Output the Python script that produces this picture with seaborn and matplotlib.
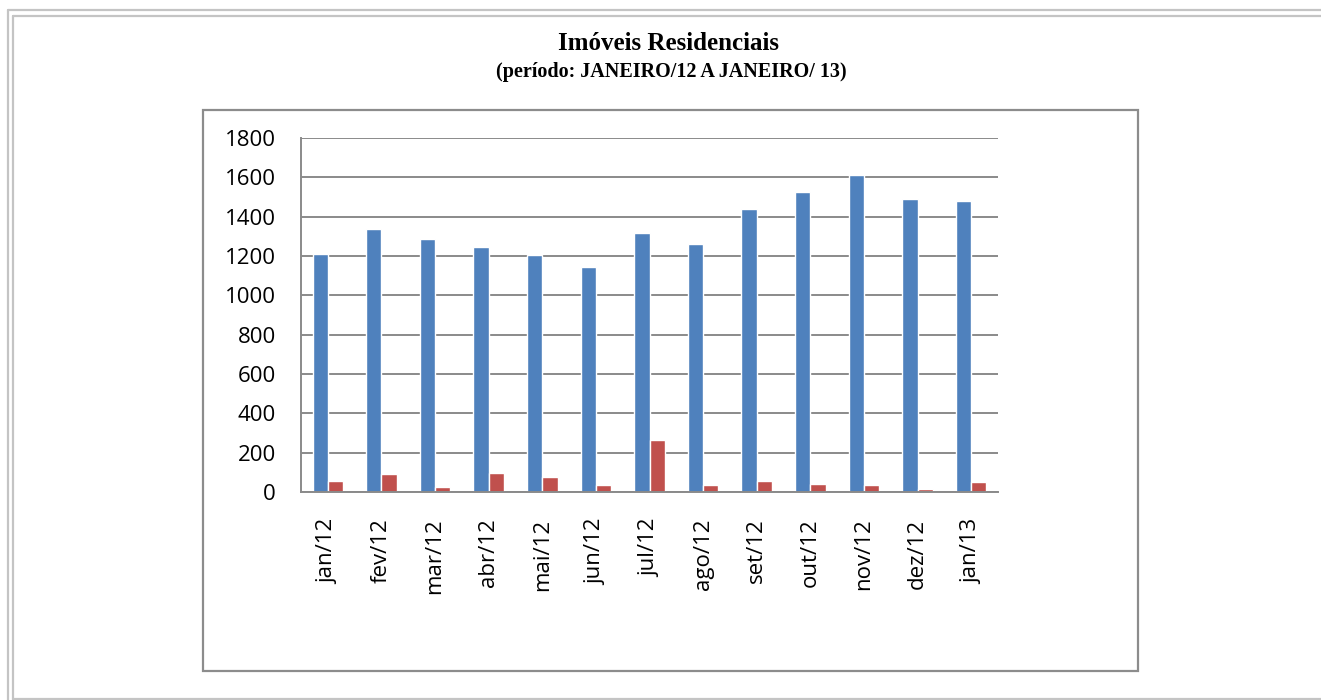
import pandas as pd
import matplotlib.pyplot as plt
import seaborn as sns
from matplotlib.lines import Line2D
from matplotlib.patches import Rectangle

"""Dados"""
meses = ["jan/12", "fev/12", "mar/12", "abr/12", "mai/12", "jun/12", "jul/12",
         "ago/12", "set/12", "out/12", "nov/12", "dez/12", "jan/13"]
serie_azul = [1210, 1339, 1285, 1244, 1203, 1143, 1315, 1261, 1441, 1527, 1610, 1488, 1478]
serie_vermelha = [55, 92, 26, 96, 75, 34, 262, 36, 56, 43, 36, 15, 51]
yticks = [0, 200, 400, 600, 800, 1000, 1200, 1400, 1600, 1800]

df = pd.DataFrame({
    "mes": meses * 2,
    "valor": serie_azul + serie_vermelha,
    "serie": ["azul"] * len(meses) + ["vermelha"] * len(meses),
})

sns.set_style("white")
plt.rcParams["font.family"] = ["Open Sans", "DejaVu Sans"]
plt.rcParams["text.color"] = "black"
plt.rcParams["xtick.labelcolor"] = "black"
plt.rcParams["ytick.labelcolor"] = "black"

W, H = 1321, 700
fig = plt.figure(figsize=(W / 100, H / 100), dpi=100)

def fx(px):
    return px / W

def fy(py):
    return 1 - py / H

# moldura da pagina (linha dupla cinza)
cor_borda = "#c4c4c4"
for x0, y0 in [(8, 10), (13, 15.5)]:
    fig.add_artist(Line2D([fx(x0), fx(x0)], [fy(y0), fy(700)], color=cor_borda, lw=1.6, transform=fig.transFigure))
    fig.add_artist(Line2D([fx(x0), 1], [fy(y0), fy(y0)], color=cor_borda, lw=1.6, transform=fig.transFigure))
fig.add_artist(Line2D([fx(13), 1], [fy(699), fy(699)], color=cor_borda, lw=1.6, transform=fig.transFigure))

# caixa do grafico
fig.add_artist(Rectangle((fx(203), fy(671)), fx(1138) - fx(203), fy(110) - fy(671),
                         fill=False, edgecolor="#8c8c8c", lw=1.6, transform=fig.transFigure))

fig.text(fx(668), fy(43), "Imóveis Residenciais", ha="center", va="center",
         family="Liberation Serif", fontweight="bold", fontsize=18, color="black")
fig.text(fx(671), fy(72), "(período: JANEIRO/12 A JANEIRO/ 13)", ha="center", va="center",
         family="Liberation Serif", fontweight="bold", fontsize=14.5, color="black")

ax = fig.add_axes([fx(301), fy(492), fx(998) - fx(301), fy(138) - fy(492)])
sns.barplot(data=df, x="mes", y="valor", hue="serie", palette=["#4f81bd", "#c0504d"],
            width=0.57, saturation=1, legend=False, ax=ax)

ax.set_ylim(0, 1800)
ax.set_yticks(yticks)
ax.set_xlim(-0.5, len(meses) - 0.5)
ax.set_xlabel("")
ax.set_ylabel("")
ax.yaxis.grid(True, color="#8a8a8a", lw=1.4)
ax.set_axisbelow(True)
for s in ["top", "right"]:
    ax.spines[s].set_visible(False)
for s in ["left", "bottom"]:
    ax.spines[s].set_color("#8a8a8a")
    ax.spines[s].set_linewidth(1.4)

ax.tick_params(axis="y", direction="out", length=6, width=1.4, color="#8a8a8a",
               pad=12, labelsize=16, labelcolor="black")
ax.set_xticks([i + 0.5 for i in range(-1, len(meses))], minor=True)
ax.set_xticks(range(len(meses)))
ax.set_xticklabels(meses, rotation=90, fontsize=16)
ax.tick_params(axis="x", which="major", length=0, pad=19, labelcolor="black")
ax.tick_params(axis="x", which="minor", direction="out", length=6, width=1.4, color="#8a8a8a")

fig.savefig("out.png", dpi=100)
